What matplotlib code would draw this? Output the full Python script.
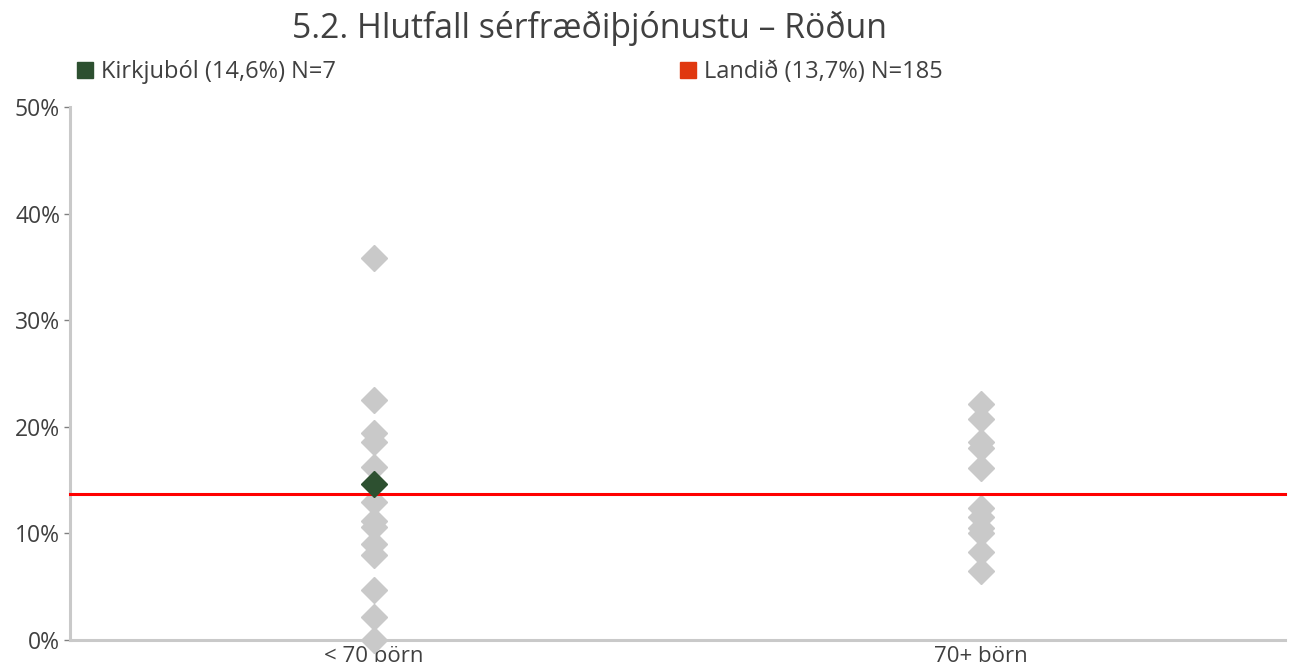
import matplotlib.pyplot as plt
from matplotlib.lines import Line2D

# Hlutfall sérfræðiþjónustu eftir stærð leikskóla (%)
flokkar = ["< 70 börn", "70+ börn"]
undir_70 = [35.8, 22.5, 19.4, 18.6, 16.2, 12.9, 11.2, 10.6, 9.0, 8.0, 4.7, 2.2, 0.0]
yfir_70 = [22.1, 20.7, 18.6, 18.0, 16.1, 12.4, 11.5, 10.5, 10.0, 8.3, 6.5]
kirkjubol = 14.6
kirkjubol_flokkur = 0
landid = 13.7
y_ticks = [0, 10, 20, 30, 40, 50]

GRAR = "#c9c9c9"
GRAENN = "#2d5030"
TEXTI = "#404040"

plt.rcParams["font.family"] = ["Open Sans", "DejaVu Sans"]

fig = plt.figure(figsize=(12.92, 6.70), dpi=100)
ax = fig.add_axes([0.054, 0.0448, 0.9406, 0.7955])

for i, gildi in enumerate([undir_70, yfir_70]):
    ax.plot([i] * len(gildi), gildi, linestyle="none", marker="D",
            markersize=13, color=GRAR, zorder=2)

ax.axhline(landid, color="#ff0000", linewidth=2.2, zorder=3)
ax.plot([kirkjubol_flokkur], [kirkjubol], linestyle="none", marker="D",
        markersize=13, color=GRAENN, zorder=4)

ax.set_xlim(-0.5, 1.5)
ax.set_ylim(0, 50)
ax.set_xticks(range(len(flokkar)))
ax.set_xticklabels(flokkar)
ax.set_yticks(y_ticks)
ax.set_yticklabels([f"{t}%" for t in y_ticks])
ax.tick_params(axis="x", length=0, pad=4, labelsize=16, labelcolor=TEXTI)
ax.tick_params(axis="y", length=4, width=1, color="#808080", pad=3,
               labelsize=16.5, labelcolor=TEXTI)

for s in ["top", "right"]:
    ax.spines[s].set_visible(False)
for s in ["left", "bottom"]:
    ax.spines[s].set_color(GRAR)
    ax.spines[s].set_linewidth(2.2)
for line in ax.lines:
    line.set_clip_on(False)

fig.text(0.456, 0.958, "5.2. Hlutfall sérfræðiþjónustu – Röðun",
         ha="center", va="center", fontsize=24.3, color=TEXTI)

handles = [
    Line2D([], [], linestyle="none", marker="s", markersize=12, color=GRAENN),
    Line2D([], [], linestyle="none", marker="s", markersize=12, color="#e0380f"),
]
labels = [f"Kirkjuból ({kirkjubol:.1f}%) N=7".replace(".", ","),
          f"Landið ({landid:.1f}%) N=185".replace(".", ",")]
leg = fig.legend(handles, labels, loc="center left", bbox_to_anchor=(0.059, 0.892),
                 ncol=2, frameon=False, fontsize=17, handlelength=0.75,
                 handletextpad=0.3, columnspacing=14.55, borderaxespad=0,
                 borderpad=0)
for t in leg.get_texts():
    t.set_color(TEXTI)

fig.savefig("out.png", dpi=100)
